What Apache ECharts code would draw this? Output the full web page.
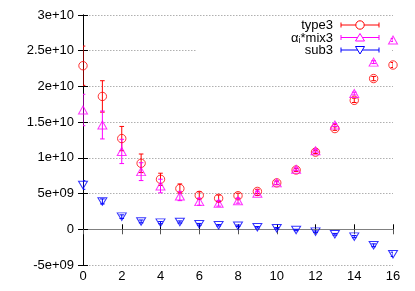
<!DOCTYPE html>
<html>
<head>
<meta charset="utf-8">
<script src="https://cdn.jsdelivr.net/npm/echarts@6/dist/echarts.min.js"></script>
<style>
html,body{margin:0;padding:0;background:#fff;}
#chart{width:415px;height:291px;}
</style>
</head>
<body>
<div id="chart"></div>
<script>
const xValues = [0,1,2,3,4,5,6,7,8,9,10,11,12,13,14,15,16];
const type3 = [22.9e9,18.6e9,12.7e9,9.24e9,7.0e9,5.7e9,4.75e9,4.34e9,4.7e9,5.3e9,6.5e9,8.3e9,10.8e9,14.1e9,18.05e9,21.1e9,23.0e9];
const type3Err = [2.75e9,2.2e9,1.7e9,1.3e9,0.85e9,0.65e9,0.5e9,0.45e9,0.35e9,0.3e9,0.25e9,0.2e9,0.2e9,0.25e9,0.3e9,0.3e9,0.35e9];
const mix3 = [16.7e9,14.6e9,10.9e9,8.07e9,6.06e9,4.66e9,3.87e9,3.64e9,4.0e9,5.04e9,6.5e9,8.4e9,11.0e9,14.6e9,19.0e9,23.4e9,26.5e9];
const mix3Err = [2.2e9,1.95e9,1.7e9,1.25e9,0.95e9,0.65e9,0.5e9,0.4e9,0.35e9,0.3e9,0.25e9,0.2e9,0.2e9,0.2e9,0.2e9,0.2e9,0.2e9];
const sub3 = [6.2e9,3.9e9,1.77e9,1.1e9,0.93e9,1.02e9,0.7e9,0.56e9,0.5e9,0.28e9,0.14e9,-0.1e9,-0.33e9,-0.7e9,-1.03e9,-2.24e9,-3.5e9];
const sub3Err = [0.6e9,0.35e9,0.25e9,0.2e9,0.15e9,0.15e9,0.12e9,0.1e9,0.1e9,0.1e9,0.1e9,0.1e9,0.1e9,0.12e9,0.15e9,0.2e9,0.3e9];
const yTickValues = [-5e9,0,5e9,1e10,1.5e10,2e10,2.5e10,3e10];
const yTickLabels = ['-5e+09','0','5e+09','1e+10','1.5e+10','2e+10','2.5e+10','3e+10'];
const seriesNames = ['type3','mix3','sub3'];

const RED = '#ff0000', MAG = '#ff00ff', BLUE = '#0000ff';
const FONT = 'Liberation Sans, Arial, sans-serif';
const FS = 13;

function pts(vals, errs){ return xValues.map((x,i)=>[x, vals[i], errs[i]]); }

function errRenderer(color){
  return function(params, api){
    const x = api.value(0), y = api.value(1), e = api.value(2);
    const hi = api.coord([x, y+e]), lo = api.coord([x, y-e]);
    const cw = 2.3;
    const st = {stroke: color, lineWidth: 1};
    return {type:'group', children:[
      {type:'line', shape:{x1:hi[0],y1:hi[1],x2:lo[0],y2:lo[1]}, style:st},
      {type:'line', shape:{x1:hi[0]-cw,y1:hi[1],x2:hi[0]+cw,y2:hi[1]}, style:st},
      {type:'line', shape:{x1:lo[0]-cw,y1:lo[1],x2:lo[0]+cw,y2:lo[1]}, style:st}
    ]};
  };
}

const chart = echarts.init(document.getElementById('chart'));

function legendRow(y, color, marker){
  const x1 = 341, x2 = 379, xm = 360;
  const st = {stroke: color, lineWidth: 1};
  const els = [
    {type:'line', shape:{x1:x1,y1:y,x2:x2,y2:y}, style:st, z:10},
    {type:'line', shape:{x1:x1,y1:y-2.5,x2:x1,y2:y+2.5}, style:st, z:10},
    {type:'line', shape:{x1:x2,y1:y-2.5,x2:x2,y2:y+2.5}, style:st, z:10}
  ];
  if (marker === 'circle') {
    els.push({type:'circle', shape:{cx:xm, cy:y, r:4.2}, style:{fill:'#fff', stroke:color, lineWidth:1}, z:11});
  } else if (marker === 'tri') {
    els.push({type:'polygon', shape:{points:[[xm,y-4],[xm-4.5,y+3.5],[xm+4.5,y+3.5]]}, style:{fill:'#fff', stroke:color, lineWidth:1}, z:11});
  } else {
    els.push({type:'polygon', shape:{points:[[xm,y+4],[xm-4.5,y-3.5],[xm+4.5,y-3.5]]}, style:{fill:'#fff', stroke:color, lineWidth:1}, z:11});
  }
  return els;
}

const option = {
  backgroundColor: '#fff',
  animation: false,
  grid: {left:83, right:22, top:15, bottom:26, outerBoundsMode:'none'},
  xAxis: [
    {type:'value', min:0, max:16, interval:2, position:'bottom',
     axisLine:{lineStyle:{color:'#000', width:1}},
     axisTick:{inside:true, length:5, lineStyle:{color:'#000'}},
     axisLabel:{color:'#000', fontSize:FS, fontFamily:FONT, margin:5},
     splitLine:{show:false}},
    {type:'value', min:0, max:16, interval:2, position:'top',
     axisLine:{lineStyle:{color:'#808080', width:1}},
     axisTick:{inside:true, length:5, lineStyle:{color:'#555'}},
     axisLabel:{show:false}, splitLine:{show:false}}
  ],
  yAxis: [
    {type:'value', min:-5e9, max:3e10, interval:5e9, position:'left',
     axisLine:{show:true, lineStyle:{color:'#000', width:1}},
     axisTick:{show:true, inside:true, length:5, lineStyle:{color:'#000'}},
     axisLabel:{color:'#000', fontSize:FS, fontFamily:FONT, margin:9,
       formatter: v => { const i = yTickValues.findIndex(t => Math.abs(t - v) < 1); return i >= 0 ? yTickLabels[i] : ''; }},
     splitLine:{show:true, lineStyle:{color:'#b0b0b0', type:[1.5,1.5], width:1}}},
    {type:'value', min:-5e9, max:3e10, interval:5e9, position:'right',
     axisLine:{show:true, lineStyle:{color:'#000', width:1}},
     axisTick:{show:true, inside:true, length:5, lineStyle:{color:'#000'}},
     axisLabel:{show:false}, splitLine:{show:false}}
  ],
  graphic: [
    {type:'rect', shape:{x:196, y:17, width:195, height:42}, style:{fill:'#fff'}, z:1, silent:true},
    {type:'text', x:333, y:25, style:{text:'type3', font:FS + 'px ' + FONT, fill:'#000', align:'right', verticalAlign:'middle'}, z:10},
    {type:'text', x:333, y:37.5, style:{text:'{n|α}{s|i}{n|*mix3}', font:FS + 'px ' + FONT, fill:'#000', align:'right', verticalAlign:'middle',
      rich:{n:{fontSize:FS, fontFamily:FONT, fill:'#000', verticalAlign:'bottom', lineHeight:15}, s:{fontSize:9, fontFamily:FONT, fill:'#000', verticalAlign:'bottom', lineHeight:11}}}, z:10},
    {type:'text', x:333, y:50, style:{text:'sub3', font:FS + 'px ' + FONT, fill:'#000', align:'right', verticalAlign:'middle'}, z:10}
  ].concat(legendRow(25, RED, 'circle'), legendRow(37.5, MAG, 'tri'), legendRow(50, BLUE, 'inv')),
  series: [
    {name:seriesNames[0]+' err', type:'custom', renderItem:errRenderer(RED), data:pts(type3,type3Err), z:3, clip:true},
    {name:seriesNames[0], type:'scatter', data:pts(type3,type3Err), symbol:'circle', symbolSize:8.4,
     itemStyle:{color:'rgba(0,0,0,0)', borderColor:RED, borderWidth:1}, z:4},
    {name:seriesNames[1]+' err', type:'custom', renderItem:errRenderer(MAG), data:pts(mix3,mix3Err), z:3, clip:true},
    {name:seriesNames[1], type:'scatter', data:pts(mix3,mix3Err), symbol:'triangle', symbolSize:[9,8],
     itemStyle:{color:'rgba(0,0,0,0)', borderColor:MAG, borderWidth:1}, z:4},
    {name:seriesNames[2]+' err', type:'custom', renderItem:errRenderer(BLUE), data:pts(sub3,sub3Err), z:3, clip:true},
    {name:seriesNames[2], type:'scatter', data:pts(sub3,sub3Err), symbol:'triangle', symbolRotate:180, symbolSize:[9,7.5],
     itemStyle:{color:'rgba(0,0,0,0)', borderColor:BLUE, borderWidth:1}, z:4}
  ]
};
chart.setOption(option);
</script>
</body>
</html>
